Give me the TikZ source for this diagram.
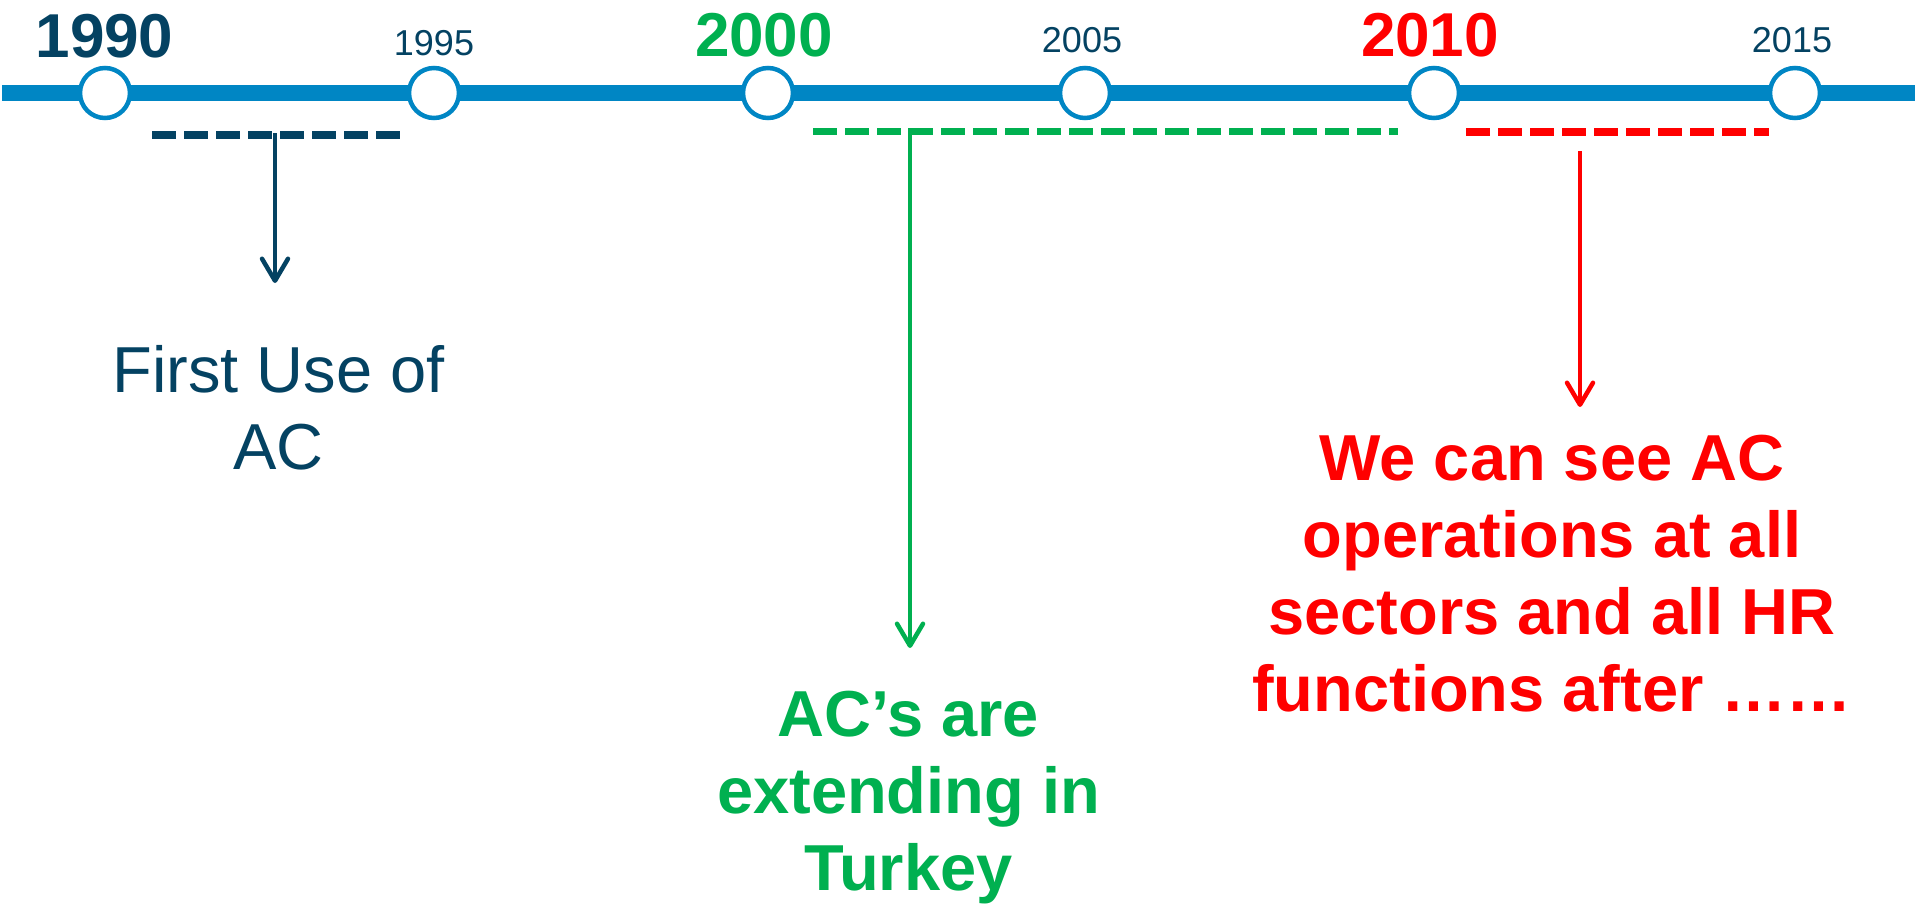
\documentclass[tikz,border=0pt]{standalone}
\usepackage{fontspec}
\setmainfont{Liberation Sans}
\usetikzlibrary{arrows.meta}
\definecolor{tlblue}{RGB}{0,134,196}
\definecolor{navy}{RGB}{4,66,98}
\definecolor{grn}{RGB}{0,176,80}
\definecolor{rd}{RGB}{255,0,0}
\begin{document}
\begin{tikzpicture}[x=1bp,y=-1bp,
  yearmark/.style={circle, draw=tlblue, line width=4.5bp, fill=white, minimum size=50bp, inner sep=0pt},
  bigyear/.style={font=\fontsize{62bp}{70bp}\selectfont\bfseries, anchor=base, inner sep=0pt},
  smallyear/.style={font=\fontsize{36bp}{42bp}\selectfont, text=navy, anchor=base, inner sep=0pt},
  spanline/.style={line width=7.5bp, dash pattern=on 24bp off 8bp},
  pointer/.style={line width=4.5bp, -{Straight Barb[length=22bp,width=26bp,line cap=round,line join=round]}},
  note/.style={anchor=north, inner sep=0pt, align=center, font=\fontsize{65bp}{77bp}\selectfont}
]
\useasboundingbox (0,0) rectangle (1915,906);

% timeline
\coordinate (tlL) at (2,93);
\coordinate (tlR) at (1915,93);
\draw[tlblue, line width=16bp] (tlL) -- (tlR);

% year marks
\node[yearmark] (m1990) at (105,93) {};
\node[yearmark] (m1995) at (434,93) {};
\node[yearmark] (m2000) at (768,93) {};
\node[yearmark] (m2005) at (1085,93) {};
\node[yearmark] (m2010) at (1434,93) {};
\node[yearmark] (m2015) at (1795,93) {};

% year labels
\node[bigyear, text=navy] (l1990) at (104.5,57) {1990};
\node[smallyear] (l1995) at (434,55) {1995};
\node[bigyear, text=grn] (l2000) at (764,56) {2000};
\node[smallyear] (l2005) at (1082,52) {2005};
\node[bigyear, text=rd] (l2010) at (1430,56) {2010};
\node[smallyear] (l2015) at (1792,52) {2015};

% spans
\coordinate (navyL) at (152,135);
\coordinate (navyR) at (400,135);
\draw[navy, spanline] (navyL) -- (navyR);
\coordinate (grnL) at (813,131.5);
\coordinate (grnR) at (1398,131.5);
\draw[grn, spanline] (grnL) -- (grnR);
\coordinate (rdL) at (1466,132);
\coordinate (rdR) at (1769,132);
\draw[rd, spanline] (rdL) -- (rdR);

% notes
\node[note, text=navy] (noteNavy) at (278.5,345) {First Use of\\AC};
\node[note, text=grn, font=\fontsize{65bp}{77bp}\selectfont\bfseries] (noteGrn) at (908.5,691) {AC’s are\\extending in\\Turkey};
\node[note, text=rd, font=\fontsize{65bp}{77bp}\selectfont\bfseries] (noteRd) at (1552,435) {We can see AC\\operations at all\\sectors and all HR\\functions after ……};

% pointers
\coordinate (navyA) at (275,133);
\coordinate (navyTip) at (275,283);
\draw[navy, pointer] (navyA) -- (navyTip);
\coordinate (grnA) at (910,128);
\coordinate (grnTip) at (910,648);
\draw[grn, pointer] (grnA) -- (grnTip);
\coordinate (rdA) at (1580,151);
\coordinate (rdTip) at (1580,407);
\draw[rd, pointer] (rdA) -- (rdTip);
\end{tikzpicture}
\end{document}
